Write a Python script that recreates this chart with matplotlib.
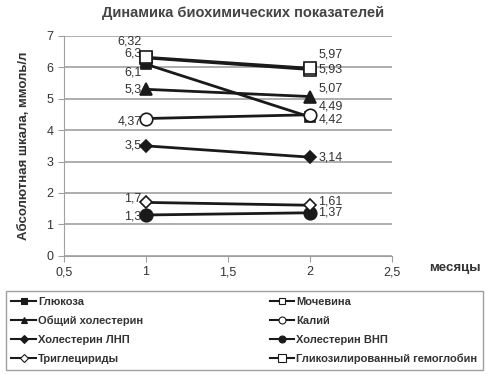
import numpy as np
from matplotlib import pyplot as plt

plt.rcParams['font.family'] = ['Liberation Sans', 'DejaVu Sans']

months = [1, 2]
names = ['Глюкоза', 'Мочевина', 'Общий холестерин', 'Калий',
         'Холестерин ЛНП', 'Холестерин ВНП', 'Триглецириды',
         'Гликозилированный гемоглобин']
glucose = [6.1, 4.42]
urea = [6.3, 5.93]
chol_total = [5.3, 5.07]
potassium = [4.37, 4.49]
chol_ldl = [3.5, 3.14]
chol_hdl = [1.3, 1.37]
triglycerides = [1.7, 1.61]
hba1c = [6.32, 5.97]
series = [glucose, urea, chol_total, potassium, chol_ldl, chol_hdl,
          triglycerides, hba1c]
x_ticks = [0.5, 1, 1.5, 2, 2.5]

# marker styles: (marker, facecolor, size)
styles = [('s', '#1a1a1a', 7), ('s', 'white', 8), ('^', '#1a1a1a', 8),
          ('o', 'white', 9), ('D', '#1a1a1a', 6), ('o', '#1a1a1a', 9),
          ('D', 'white', 6), ('s', 'white', 9)]
legend_sizes = [5, 5, 5, 5, 4, 5, 4, 6]
# label offsets in points (left point, right point)
offsets = [((-3, -6), (6, -2)), ((-3, 3), (6, 0)), ((-3, 0), (6, 6)),
           ((-3, -2), (6, 6)), ((-3, 0), (6, 0)), ((-3, -1), (6, 0)),
           ((-3, 3), (6, 3)), ((-3, 11), (6, 10))]

fig = plt.figure(figsize=(4.87, 3.74), dpi=100)
ax = fig.add_axes([0.131, 0.316, 0.674, 0.588])

handles = []
for vals, (m, fc, ms), ls, off, name in zip(series, styles, legend_sizes,
                                             offsets, names):
    ax.plot(months, vals, color='#1a1a1a', lw=2, marker=m, ms=ms,
            mfc=fc, mec='#1a1a1a', mew=1.2, zorder=3)
    h, = plt.plot([], [], color='#1a1a1a', lw=1.5, marker=m, ms=ls,
                  mfc=fc, mec='#1a1a1a', mew=0.8, label=name)
    handles.append(h)
    for xi, yi, (dx, dy), ha in zip(months, vals, off, ['right', 'left']):
        ax.annotate(f'{yi:g}'.replace('.', ','), (xi, yi),
                    xytext=(dx, dy), textcoords='offset points',
                    ha=ha, va='center', fontsize=9, color='#333333',
                    zorder=2)

ax.set_xlim(0.5, 2.5)
ax.set_ylim(0, 7)
ax.set_xticks(x_ticks)
ax.set_xticklabels([f'{t:g}'.replace('.', ',') for t in x_ticks])
ax.set_yticks(range(8))
ax.yaxis.grid(True, color='#a0a0a0', lw=1.2)
ax.set_axisbelow(True)
for s in ['top', 'right']:
    ax.spines[s].set_visible(False)
for s in ['left', 'bottom']:
    ax.spines[s].set_color('#a0a0a0')
ax.tick_params(colors='#a0a0a0', labelcolor='#333333', labelsize=9,
               length=4)

ax.set_ylabel('Абсолютная шкала, ммоль/л', fontsize=9.5,
              fontweight='bold', color='#333333', labelpad=12)
fig.text(0.935, 0.275, 'месяцы', fontsize=9.5, fontweight='bold',
         color='#333333', ha='center')
fig.suptitle('Динамика биохимических показателей', x=0.5, y=0.985,
             fontsize=10.5, fontweight='bold', color='#444444')

# row-wise order like the original legend
order = [0, 2, 4, 6, 1, 3, 5, 7]
leg = fig.legend(handles=[handles[i] for i in order], ncol=2,
                 loc='lower left', mode='expand',
                 bbox_to_anchor=(0.012, 0.012, 0.98, 0.23),
                 frameon=True, fancybox=False, edgecolor='#888888',
                 handlelength=2.2, handletextpad=0.2, labelspacing=0.8,
                 borderpad=0.5, borderaxespad=0,
                 prop={'weight': 'bold', 'size': 8})
leg.get_frame().set_linewidth(1.0)
for t in leg.get_texts():
    t.set_color('#333333')

plt.savefig('out.png', dpi=100)
